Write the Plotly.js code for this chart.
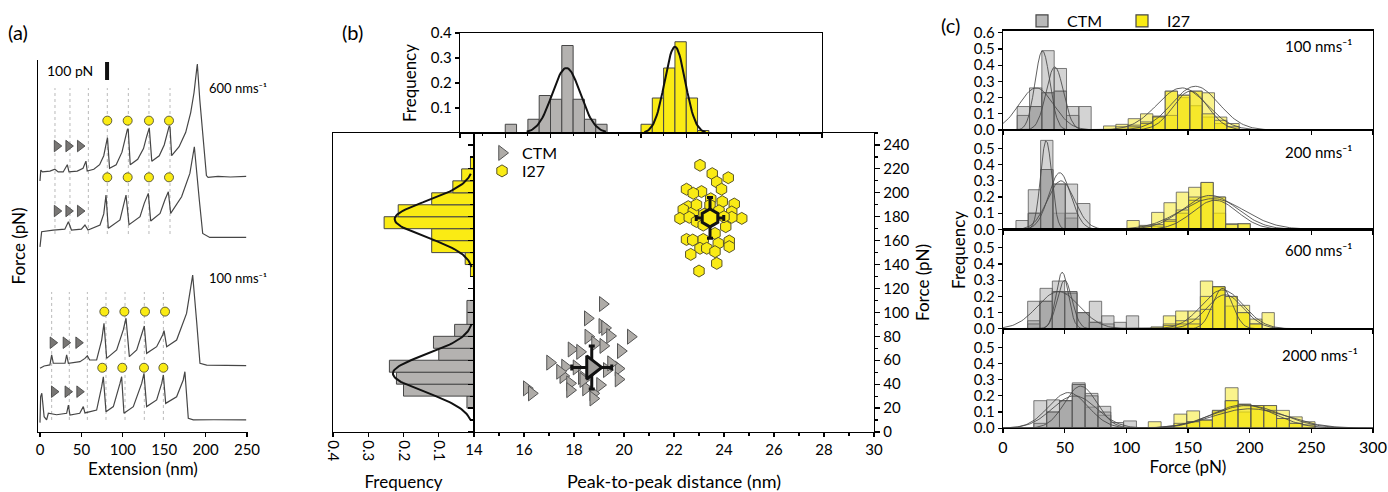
<!DOCTYPE html>
<html><head><meta charset="utf-8">
<script src="https://cdn.plot.ly/plotly-3.0.1.min.js"></script>
<style>html,body{margin:0;padding:0;background:#fff}#chart{width:1388px;height:492px}</style>
</head><body><div id="chart"></div>
<script>
// ================= DATA =================
// ---- Panel (a): force-extension traces (extension nm, force pN relative to trace baseline)
const aTickVals = [0, 50, 100, 150, 200, 250];
const traceOffsetsPN = [1445, 1122, 363, 76];
const tr600aExt = [0,1,3,12,18,22,28,33,35,45,52,55.5,57,65,72,77,80.5,81.5,84,92,99,103,105.5,106.5,109,118,125,129,131,132,135,144,150,154,156,157,159,168,176,182,186,189,190,193,197,201,203,215,230,249];
const tr600aForce = [-50,10,0,5,15,0,0,40,0,5,20,60,5,15,40,90,170,190,20,40,110,190,235,240,40,70,130,200,240,245,60,90,150,220,255,250,90,140,220,330,440,560,600,400,200,-20,-30,-25,-28,-25];
const tr600bExt = [0,2,16,30,34.3,38,50,54.3,58,72.5,77,79.7,82.5,96.6,101,103.9,107.5,120.8,126,130.8,133.7,145,151,155,157.8,171,181,186.4,192.4,196.5,205,230,249];
const tr600bForce = [-93,-9,0,5,46,0,5,28,0,28,90,194,10,56,140,194,30,74,150,204,50,93,170,213,93,185,315,463,167,-19,-41,-40,-41];
const tr100aExt = [0,5,12,14.1,16.1,30.2,32.2,34.3,48.3,54.3,57.2,60,68.4,74.5,77.3,80.5,92.6,100.6,103.9,107.9,116.8,124.8,126,128.8,140.9,148.1,149.8,153,165,177,182,184.4,189.2,193.2,201.3,225,249];
const tr100aForce = [-9,4,10,65,19,19,65,19,28,46,60,37,37,148,241,46,93,204,269,56,93,204,226,74,111,176,200,111,148,296,426,509,250,19,9,7,6];
const tr100bExt = [0,0.8,2.2,5,8,10.1,20,32.2,34.3,36.2,48,52.3,54.3,68.4,74.5,76.5,79.7,88.6,96.6,98.6,101.4,112.7,122.8,125.6,128.8,140.9,147,149,151.8,165,173,175,179.1,185.2,210,249];
const tr100bForce = [-24,120,139,9,-9,28,20,28,74,18,28,65,30,46,176,231,37,65,194,231,28,65,194,250,65,102,194,241,83,120,213,259,0,-9,-8,-9];
// unfolding-event markers
const triExt = [[20.3,34.3,48.3],[20.3,34.3,48.3],[15.3,31,46.3],[16.9,33.3,47.5]];
const triForce = [144, 106, 133, 148];
const circExt = [[81.3,105.9,131.6,155.8],[81.3,105.9,131.6,155.8],[77.7,101.9,126.8,151],[75.2,99.4,125.6,149]];
const circForce = [285, 293, 306, 281];
// dotted guide lines at the peaks
const guides600Ext = [18.1,36.2,58.4,81.3,106.7,131.6,157];
const guides600RangePN = [1100, 1911];
const guides100Ext = [14.1,35.4,57.2,79.7,102.7,126,149];
const guides100RangePN = [67, 778];
const scaleBarExt = 81, scaleBarBasePN = 1956, scaleBarPN = 100;

// ---- Panel (b)
const topCTMDist = [16.25,16.75,17.25,17.75,18.25,18.75,19.25,19.75,20.25];
const topCTMFreq = [0.035,0,0.055,0.15,0.135,0.35,0.135,0.055,0.035];
const topI27Dist = [22.25,22.75,23.25,23.75,24.25,24.75];
const topI27Freq = [0.035,0.14,0.26,0.365,0.14,0.01];
const leftCTMForce = [25,35,45,55,65,75,85,95,105];
const leftCTMFreq = [0.02,0.2,0.22,0.24,0.1,0.115,0.055,0.02,0.02];
const leftI27Force = [135,145,155,165,175,185,195,205,215,225];
const leftI27Freq = [0.01,0.025,0.12,0.12,0.255,0.215,0.12,0.06,0.035,0.01];
// gaussian fits [amplitude, mean, sigma, from, to]
const fitTopCTM = [0.26, 18.7, 0.62, 16.95, 20.45];
const fitTopI27 = [0.345, 23.5, 0.45, 22.15, 24.85];
const fitLeftCTM = [0.23, 49, 15.5, 10, 90];
const fitLeftI27 = [0.225, 178, 15, 138, 216];
// scatter
const ctmDist = [19.15,18.55,19.13,19.24,20.27,19.44,18.57,18.84,19.17,17.9,18.24,19.87,17.04,17.64,18.1,19.78,19.31,17.57,18.31,19.78,17.84,19.04,16.11,16.31,17.84,18.48,18.77,18.77,18.37,17.44,18.64,19.48];
const ctmForce = [107,95,88.6,87,79.7,80.3,79.7,74,72,69,67,67.7,58,54.6,54,53,51.8,46.8,46,44,40.7,39.3,36.5,32.3,35,36.5,32.3,28,43.5,50.4,49.6,57.4];
const i27Dist = [23.04,23.53,24.17,23.71,22.5,23.1,23.9,22.77,23.47,23.93,24.41,22.57,22.37,22.77,24.31,22.24,22.61,24.71,24.31,22.9,23.17,24.07,23.64,22.5,22.75,23.17,24.21,23.77,24.21,23.04,23.31,23.64,22.67,23.71,23.0,23.44,23.8,24.0,23.2,22.9];
const i27Force = [223,216,212.6,209,203,201,203,199.6,195,192.6,190.6,188.4,186,184,184,178.6,179.5,178.6,179.5,176,173,171.7,166,161,160.5,161,159.7,157.7,155,153.6,153.6,150.8,148.5,141,134.6,189.8,185,180,182,190];
const ctmMean = [18.71, 54], ctmErr = [0.8, 18];
const i27Mean = [23.44, 179], i27Err = [0.55, 17];

// ---- Panel (c): rupture-force histograms at four pulling speeds
const speeds = ['100', '200', '600', '2000'];
const cCTMCenters = [
  [16.5,26.5,36.5,46.5,56.5,66.5],
  [15.5,25.5,35.5,45.5,55.5,65.5],
  [25,35,45,55,65,75,85,95,105],
  [30.2,40.6,51,61.4,71.8,82.2,92.6,103]];
const cCTMA = [[0.145,0.26,0.23,0.24,0.145,0.145],[0.055,0.245,0.37,0.1,0.28,0.16],[0.17,0.25,0.23,0.23,0.1,0.17,0.08,0.04,0.08],[0.17,0.175,0.17,0.28,0.215,0.135,0.035,0.045]];
const cCTMB = [[0.09,0.145,0.49,0.38,0,0],[0,0.1,0.55,0.28,0.07,0],[0.05,0.17,0.295,0.23,0.1,0.04,0,0,0],[0.03,0.1,0.17,0.27,0.13,0.08,0,0]];
const cCTMC = [[0,0.145,0.23,0.24,0.09,0],[0,0.1,0.37,0.28,0.1,0],[0.03,0.17,0.23,0.22,0.1,0.04,0.03,0,0],[0,0.1,0.17,0.27,0.2,0.1,0,0]];
const cI27Centers = [
  [86.5,96.5,106.5,116.5,126.5,136.5,146.5,156.5,166.5,176.5,186.5],
  [105.5,115.5,125.5,135.5,145.5,155.5,165.5,175.5,185.5,195.5],
  [125,135,145,155,165,175,185,195,205,215],
  [123,133.4,143.8,154.2,164.6,175,185.4,195.8,206.2,216.6,227,237.4,247.8]];
const cI27A = [[0.025,0.035,0.07,0.1,0.085,0.24,0.2,0.15,0.08,0.04,0],[0.055,0.025,0.105,0.165,0.23,0.26,0.2,0.1,0,0],[0.012,0.08,0.11,0.11,0.295,0.26,0.2,0.145,0.06,0.1],[0.04,0,0.087,0.107,0.05,0.11,0.25,0.1,0.14,0.14,0.11,0.07,0.04]];
const cI27B = [[0,0.02,0.03,0.05,0.085,0.09,0.215,0.24,0.23,0.08,0.04],[0,0.02,0.02,0.06,0.1,0.2,0.29,0.2,0.035,0.035],[0,0.03,0.05,0.06,0.2,0.26,0.14,0.1,0.03,0],[0,0,0.03,0.04,0.05,0.1,0.17,0.148,0.14,0.14,0.06,0.03,0]];
const cI27C = [[0,0,0.02,0.04,0.08,0.24,0.215,0.24,0.1,0.06,0.02],[0,0,0.03,0.05,0.12,0.18,0.29,0.2,0.03,0.035],[0,0.02,0.03,0.03,0.12,0.26,0.2,0.1,0.03,0],[0,0,0,0.04,0.05,0.11,0.17,0.148,0.14,0.11,0.06,0.03,0.02]];
const cBinWidth = [10, 10, 10, 10.4];
// gaussian fits [amplitude, mean, sigma]
const cFitsCTM = [
  [[0.49,32,6],[0.39,42,7],[0.26,27,14]],
  [[0.55,35,4.5],[0.35,46,9],[0.3,47,11]],
  [[0.35,48,5],[0.3,50,6],[0.23,45,17]],
  [[0.22,53,16],[0.26,63,13],[0.2,58,18]]];
const cFitsI27 = [
  [[0.27,156,19],[0.26,145,20],[0.24,152,14]],
  [[0.21,168,22],[0.19,170,26],[0.18,172,18]],
  [[0.25,178,8],[0.24,178,17],[0.21,180,15]],
  [[0.145,195,25],[0.14,198,28],[0.12,200,30]]];

// ================= BUILD =================
const W = 1388, H = 492;
const fx = p => p / W;
const fy = p => 1 - p / H;
const FONT = 'Lato, "Open Sans", "DejaVu Sans", sans-serif';
const GRAY = 'rgb(180,178,176)', YEL = 'rgb(250,235,20)', EDGE = 'rgb(70,70,70)';
const UNIT = ' nms\u207B\u00B9';

function gauss(p, lo, hi, step) {
  const xs = [], ys = [];
  for (let v = lo; v <= hi + 1e-9; v += step) { xs.push(v); ys.push(p[0] * Math.exp(-0.5 * Math.pow((v - p[1]) / p[2], 2))); }
  return [xs, ys];
}
function vlines(xs, lo, hi) {
  const X = [], Y = [];
  xs.forEach(v => { X.push(v, v, null); Y.push(lo, hi, null); });
  return [X, Y];
}
const data = [];

// ---- (a)
const aExt = [tr600aExt, tr600bExt, tr100aExt, tr100bExt];
const aForce = [tr600aForce, tr600bForce, tr100aForce, tr100bForce];
const g6 = vlines(guides600Ext, guides600RangePN[0], guides600RangePN[1]);
const g1 = vlines(guides100Ext, guides100RangePN[0], guides100RangePN[1]);
[g6, g1].forEach(g => data.push({type:'scatter', mode:'lines', x:g[0], y:g[1], xaxis:'x', yaxis:'y',
  line:{color:'rgb(185,185,185)', width:1, dash:'dot'}, showlegend:false, hoverinfo:'skip'}));
for (let i = 0; i < 4; i++) {
  data.push({type:'scatter', mode:'lines', x:aExt[i], y:aForce[i].map(v => v + traceOffsetsPN[i]),
    xaxis:'x', yaxis:'y', line:{color:'rgb(70,70,70)', width:1.2}, showlegend:false, hoverinfo:'skip'});
  data.push({type:'scatter', mode:'markers', x:triExt[i], y:triExt[i].map(() => triForce[i] + traceOffsetsPN[i]),
    xaxis:'x', yaxis:'y', marker:{symbol:'triangle-right', size:10, color:'rgb(120,118,116)', line:{color:'rgb(60,60,60)', width:0.8}},
    showlegend:false, hoverinfo:'skip', cliponaxis:false});
  data.push({type:'scatter', mode:'markers', x:circExt[i], y:circExt[i].map(() => circForce[i] + traceOffsetsPN[i]),
    xaxis:'x', yaxis:'y', marker:{symbol:'circle', size:9, color:YEL, line:{color:'rgb(60,60,40)', width:0.8}},
    showlegend:false, hoverinfo:'skip', cliponaxis:false});
}
data.push({type:'scatter', mode:'lines', x:[scaleBarExt, scaleBarExt], y:[scaleBarBasePN, scaleBarBasePN + scaleBarPN],
  xaxis:'x', yaxis:'y', line:{color:'#111', width:4}, showlegend:false, hoverinfo:'skip'});

// ---- (b) top histogram
data.push({type:'bar', x:topCTMDist, y:topCTMFreq, width:0.5, xaxis:'x2', yaxis:'y2',
  marker:{color:GRAY, line:{color:EDGE, width:1}}, showlegend:false, hoverinfo:'skip'});
data.push({type:'bar', x:topI27Dist, y:topI27Freq, width:0.5, xaxis:'x2', yaxis:'y2',
  marker:{color:YEL, line:{color:EDGE, width:1}}, showlegend:false, hoverinfo:'skip'});
[fitTopCTM, fitTopI27].forEach(p => { const g = gauss(p, p[3], p[4], 0.05);
  data.push({type:'scatter', mode:'lines', x:g[0], y:g[1], xaxis:'x2', yaxis:'y2', line:{color:'#111', width:2}, showlegend:false, hoverinfo:'skip'}); });
// left histogram
data.push({type:'bar', orientation:'h', y:leftCTMForce, x:leftCTMFreq, width:10, xaxis:'x3', yaxis:'y3',
  marker:{color:GRAY, line:{color:EDGE, width:1}}, showlegend:false, hoverinfo:'skip'});
data.push({type:'bar', orientation:'h', y:leftI27Force, x:leftI27Freq, width:10, xaxis:'x3', yaxis:'y3',
  marker:{color:YEL, line:{color:EDGE, width:1}}, showlegend:false, hoverinfo:'skip'});
[fitLeftCTM, fitLeftI27].forEach(p => { const g = gauss(p, p[3], p[4], 1);
  data.push({type:'scatter', mode:'lines', x:g[1], y:g[0], xaxis:'x3', yaxis:'y3', line:{color:'#111', width:2}, showlegend:false, hoverinfo:'skip'}); });
// scatter
data.push({type:'scatter', mode:'markers', name:'CTM', x:ctmDist, y:ctmForce, xaxis:'x4', yaxis:'y4', legend:'legend',
  marker:{symbol:'triangle-right', size:13, color:'rgb(175,172,168)', line:{color:'rgb(85,85,85)', width:1}}, hoverinfo:'skip'});
data.push({type:'scatter', mode:'markers', name:'I27', x:i27Dist, y:i27Force, xaxis:'x4', yaxis:'y4', legend:'legend3',
  marker:{symbol:'hexagon', size:12, color:YEL, line:{color:'rgb(90,85,40)', width:1}}, hoverinfo:'skip'});
data.push({type:'scatter', mode:'markers', x:[ctmMean[0]], y:[ctmMean[1]], xaxis:'x4', yaxis:'y4', showlegend:false, hoverinfo:'skip',
  error_x:{type:'data', array:[ctmErr[0]], color:'#111', thickness:3, width:3},
  error_y:{type:'data', array:[ctmErr[1]], color:'#111', thickness:3, width:3},
  marker:{symbol:'triangle-right', size:20, color:'rgb(160,158,155)', line:{color:'#111', width:3}}});
data.push({type:'scatter', mode:'markers', x:[i27Mean[0]], y:[i27Mean[1]], xaxis:'x4', yaxis:'y4', showlegend:false, hoverinfo:'skip',
  error_x:{type:'data', array:[i27Err[0]], color:'#111', thickness:3, width:3},
  error_y:{type:'data', array:[i27Err[1]], color:'#111', thickness:3, width:3},
  marker:{symbol:'hexagon', size:18, color:YEL, line:{color:'#111', width:3}}});

// ---- (c)
const cFitX = [0, 300];
for (let k = 0; k < 4; k++) {
  const xa = 'x' + (5 + k), ya = 'y' + (5 + k);
  [cCTMA, cCTMB, cCTMC].forEach(s => data.push({type:'bar', x:cCTMCenters[k], y:s[k], width:cBinWidth[k], xaxis:xa, yaxis:ya,
    marker:{color:'rgba(150,150,150,0.42)', line:{color:'rgb(90,90,90)', width:0.8}}, showlegend:false, hoverinfo:'skip'}));
  [cI27A, cI27B, cI27C].forEach(s => data.push({type:'bar', x:cI27Centers[k], y:s[k], width:cBinWidth[k], xaxis:xa, yaxis:ya,
    marker:{color:'rgba(245,228,0,0.45)', line:{color:'rgb(90,90,90)', width:0.8}}, showlegend:false, hoverinfo:'skip'}));
  cFitsCTM[k].concat(cFitsI27[k]).forEach(p => { const g = gauss(p, cFitX[0], cFitX[1], 1.5);
    data.push({type:'scatter', mode:'lines', x:g[0], y:g[1], xaxis:xa, yaxis:ya, line:{color:'rgba(70,70,70,0.85)', width:1}, showlegend:false, hoverinfo:'skip'}); });
}
data.push({type:'bar', name:'CTM', x:[null], y:[null], xaxis:'x5', yaxis:'y5', legend:'legend2',
  marker:{color:'rgb(185,185,185)', line:{color:'rgb(70,70,70)', width:1.2}}, hoverinfo:'skip'});
data.push({type:'bar', name:'I27', x:[null], y:[null], xaxis:'x5', yaxis:'y5', legend:'legend2',
  marker:{color:'rgb(250,236,20)', line:{color:'rgb(70,70,70)', width:1.2}}, hoverinfo:'skip'});

// ================= LAYOUT =================
const ax = o => Object.assign({showline:true, linecolor:'#000', linewidth:1.2, ticks:'outside', ticklen:4, tickwidth:1.2,
  tickcolor:'#000', showgrid:false, zeroline:false, tickfont:{size:15}, fixedrange:true}, o);
const T = (t, size, extra) => Object.assign({text:t, font:{size:size}}, extra || {});
const legBase = {xanchor:'left', yanchor:'middle', bgcolor:'rgba(0,0,0,0)', font:{size:16}, itemwidth:30, tracegroupgap:0};
const layout = {
  width:W, height:H, margin:{l:0, r:0, t:0, b:0}, paper_bgcolor:'#fff', plot_bgcolor:'rgba(0,0,0,0)',
  font:{family:FONT, color:'#000', size:15}, barmode:'overlay', hovermode:false,
  xaxis: ax({domain:[fx(38), fx(248)], range:[-2.4, 251.2], anchor:'y', tickvals:aTickVals, title:T('Extension (nm)', 17, {standoff:1})}),
  yaxis: ax({domain:[fy(432), fy(60)], range:[0, 2067], anchor:'x', ticks:'', showticklabels:false, title:T('Force (pN)', 17, {standoff:6})}),
  xaxis2: ax({domain:[fx(460), fx(822)], range:[14, 30], anchor:'y2', mirror:true, tick0:14, dtick:2, showticklabels:false, minor:{dtick:1, ticklen:2, ticks:'outside'}}),
  yaxis2: ax({domain:[fy(133), fy(33)], range:[0, 0.4], anchor:'x2', mirror:true, tickvals:[0.1,0.2,0.3,0.4], title:T('Frequency', 17)}),
  xaxis3: ax({domain:[fx(333), fx(474)], range:[0.4, 0], anchor:'y3', mirror:true, tickvals:[0.1,0.2,0.3,0.4], tickangle:90, title:T('Frequency', 17)}),
  yaxis3: ax({domain:[fy(432), fy(133)], range:[0, 250], anchor:'x3', mirror:true, ticks:'', showticklabels:false}),
  xaxis4: ax({domain:[fx(474), fx(874)], range:[14, 30], anchor:'y4', mirror:true, tick0:14, dtick:2, minor:{dtick:1, ticklen:3, ticks:'outside'}, title:T('Peak-to-peak distance (nm)', 18)}),
  yaxis4: ax({domain:[fy(432), fy(133)], range:[0, 250], anchor:'x4', side:'right', mirror:'ticks', tickvals:[0,20,40,60,80,100,120,140,160,180,200,220,240], ticklen:5, minor:{dtick:10, ticklen:3, ticks:'outside'}, title:T('Force (pN)', 17)}),
  legend: Object.assign({}, legBase, {x:fx(482), y:fy(153)}),
  legend3: Object.assign({}, legBase, {x:fx(482), y:fy(171)}),
  legend2:{orientation:'h', x:fx(1017), y:fy(21), xanchor:'left', yanchor:'middle', bgcolor:'rgba(0,0,0,0)', font:{size:16},
    itemwidth:40, entrywidth:45, entrywidthmode:'pixels'},
  annotations:[], showlegend:true
};
const cTop = [30.6, 130, 229.4, 328.8], cBot = [130, 229.4, 328.8, 428.2];
for (let k = 0; k < 4; k++) {
  layout['xaxis' + (5 + k)] = ax({domain:[fx(1003), fx(1373)], range:[0, 300], anchor:'y' + (5 + k), mirror:true,
    tickvals:[0,50,100,150,200,250,300], showticklabels:k === 3, tickfont:{size:16}, title:k === 3 ? T('Force (pN)', 17, {standoff:3}) : undefined});
  layout['yaxis' + (5 + k)] = ax({domain:[fy(cBot[k]), fy(cTop[k])], range:[0, 0.614], anchor:'x' + (5 + k), mirror:true,
    tickvals:k === 0 ? [0,0.1,0.2,0.3,0.4,0.5,0.6] : [0,0.1,0.2,0.3,0.4,0.5], tickformat:'.1f', tickfont:{size:15}});
}
const ann = (x, y, text, size, extra) => layout.annotations.push(Object.assign({xref:'paper', yref:'paper', x:fx(x), y:fy(y), text:text,
  showarrow:false, font:{size:size}, xanchor:'center', yanchor:'middle'}, extra || {}));
ann(18, 32, '(a)', 20); ann(352, 32, '(b)', 20); ann(950, 25, '(c)', 20);
ann(70, 70, '100 pN', 14);
ann(238, 88, '600' + UNIT, 13);
ann(238, 278, '100' + UNIT, 13);
const cLbl = [[1318, 46], [1318, 152], [1318, 250], [1320, 355]];
speeds.forEach((s, k) => ann(cLbl[k][0], cLbl[k][1], s + UNIT, 15));
ann(958, 250, 'Frequency', 17, {textangle:-90});

Plotly.newPlot('chart', data, layout, {staticPlot:true, displayModeBar:false});
</script></body></html>
